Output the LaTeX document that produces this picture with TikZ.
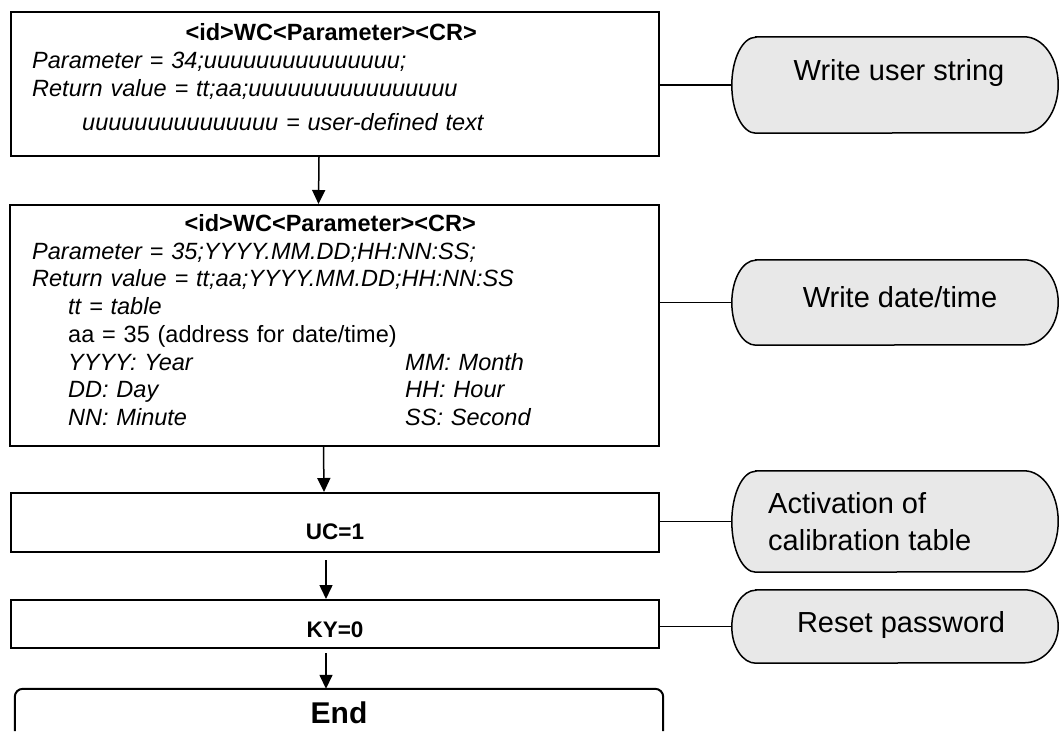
\documentclass[tikz,border=0pt]{standalone}
\usepackage{fontspec}
\setmainfont{Liberation Sans}
\usetikzlibrary{arrows.meta,calc}
\definecolor{ovalgray}{HTML}{E8E8E8}
\tikzset{
  boxline/.style={draw=black, line width=2pt},
  stepbox/.style={boxline, rectangle, inner sep=0pt, minimum width=648pt},
  txt/.style={inner sep=0pt, text width=620pt, align=left, font=\fontsize{23.5}{28.1}\selectfont},
  cmd/.style={inner sep=0pt, font=\fontsize{22.5}{27}\selectfont\bfseries},
  ovalbox/.style={rectangle, draw=none, inner sep=0pt, minimum width=326pt},
  ovalline/.style={draw=black, fill=ovalgray, line width=1.5pt},
  ovaltxt/.style={inner sep=0pt, align=left, font=\fontsize{29}{37}\selectfont},
  conn/.style={draw=black, line width=1.5pt},
  arr/.style={conn, -{Triangle[length=14pt,width=13pt]}}
}
\newcommand{\ovalpath}[2]{% name, y radius
  \filldraw[ovalline] ([xshift=24pt]#1.north west) -- ([xshift=-34pt]#1.north east)
    arc[start angle=90, end angle=-90, x radius=34pt, y radius=#2]
    -- ([xshift=24pt]#1.south west)
    arc[start angle=270, end angle=90, x radius=24pt, y radius=#2] -- cycle;}
\begin{document}
\begin{tikzpicture}[x=1pt, y=-1pt]
\useasboundingbox (0,0) rectangle (1059,731);

% main boxes
\node[stepbox, minimum height=144pt] (b1) at (335,84) {};
\node[txt, anchor=base west] (b1t) at (32,40.5) {%
\makebox[598pt][c]{\bfseries <id>WC<Parameter><CR>}\\
\textit{Parameter = 34;uuuuuuuuuuuuuuu;}\\
\textit{Return value = tt;aa;uuuuuuuuuuuuuuuu}\\[5.8pt]
\hspace*{50pt}\textit{uuuuuuuuuuuuuuu = user-defined text}};

\node[stepbox, minimum width=649pt, minimum height=241pt] (b2) at (334.5,325.5) {};
\node[txt, anchor=base west, font=\fontsize{23.5}{27.7}\selectfont] (b2t) at (32,231.5) {%
\makebox[596pt][c]{\bfseries <id>WC<Parameter><CR>}\\
\textit{Parameter = 35;YYYY.MM.DD;HH:NN:SS;}\\
\textit{Return value = tt;aa;YYYY.MM.DD;HH:NN:SS}\\
\hspace*{36pt}\textit{tt = table}\\
\hspace*{36pt}aa = 35 (address for date/time)\\
\hspace*{36pt}\makebox[337pt][l]{\textit{YYYY: Year}}\textit{MM: Month}\\
\hspace*{36pt}\makebox[337pt][l]{\textit{DD: Day}}\textit{HH: Hour}\\
\hspace*{36pt}\makebox[337pt][l]{\textit{NN: Minute}}\textit{SS: Second}};

\node[stepbox, minimum height=59pt, cmd, text height=34pt, text depth=0.6pt] (b3) at (335,522.5) {UC=1};
\node[stepbox, minimum height=48pt, cmd, text height=27pt, text depth=0.6pt] (b4) at (335,624) {KY=0};

\node[inner sep=0pt, minimum width=648pt, minimum height=42pt,
      font=\fontsize{30}{36}\selectfont\bfseries, text height=28pt, text depth=0.6pt] (e) at (339,710) {End};
\draw[boxline, rounded corners=8pt] (e.south west) -- (e.north west) -- (e.north east) -- (e.south east);

% arrows
\draw[arr] ([xshift=-16pt]b1.south) -- ([xshift=-16pt]b2.north);
\draw[arr] ([xshift=-11pt]b2.south) -- ([xshift=-11pt]b3.north);
\draw[arr, shorten <=7pt] ([xshift=-9pt]b3.south) -- ([xshift=-9pt]b4.north);
\draw[arr, shorten <=4pt] ([xshift=-9pt]b4.south) -- ([xshift=-13pt]e.north);

% ovals
\node[ovalbox, minimum height=96pt] (o1) at (895,85) {};
\ovalpath{o1}{48pt}
\node[ovaltxt] (o1t) at (899,73) {Write user string};

\node[ovalbox, minimum height=85pt] (o2) at (895,302.5) {};
\ovalpath{o2}{42.5pt}
\node[ovaltxt] (o2t) at (900,297) {Write date/time};

\node[ovalbox, minimum height=101pt] (o3) at (895,521.5) {};
\ovalpath{o3}{50.5pt}
\node[ovaltxt, anchor=west] (o3t) at (768,521.5) {Activation of\\calibration table};

\node[ovalbox, minimum height=73pt] (o4) at (895,626.5) {};
\ovalpath{o4}{36.5pt}
\node[ovaltxt] (o4t) at (901,625) {Reset password};

% side connectors
\draw[conn] (o1.west) -- (o1.west -| b1.east);
\draw[conn] (o2.west) -- (o2.west -| b2.east);
\draw[conn] (o3.west) -- (o3.west -| b3.east);
\draw[conn] (o4.west) -- (o4.west -| b4.east);
\end{tikzpicture}
\end{document}
